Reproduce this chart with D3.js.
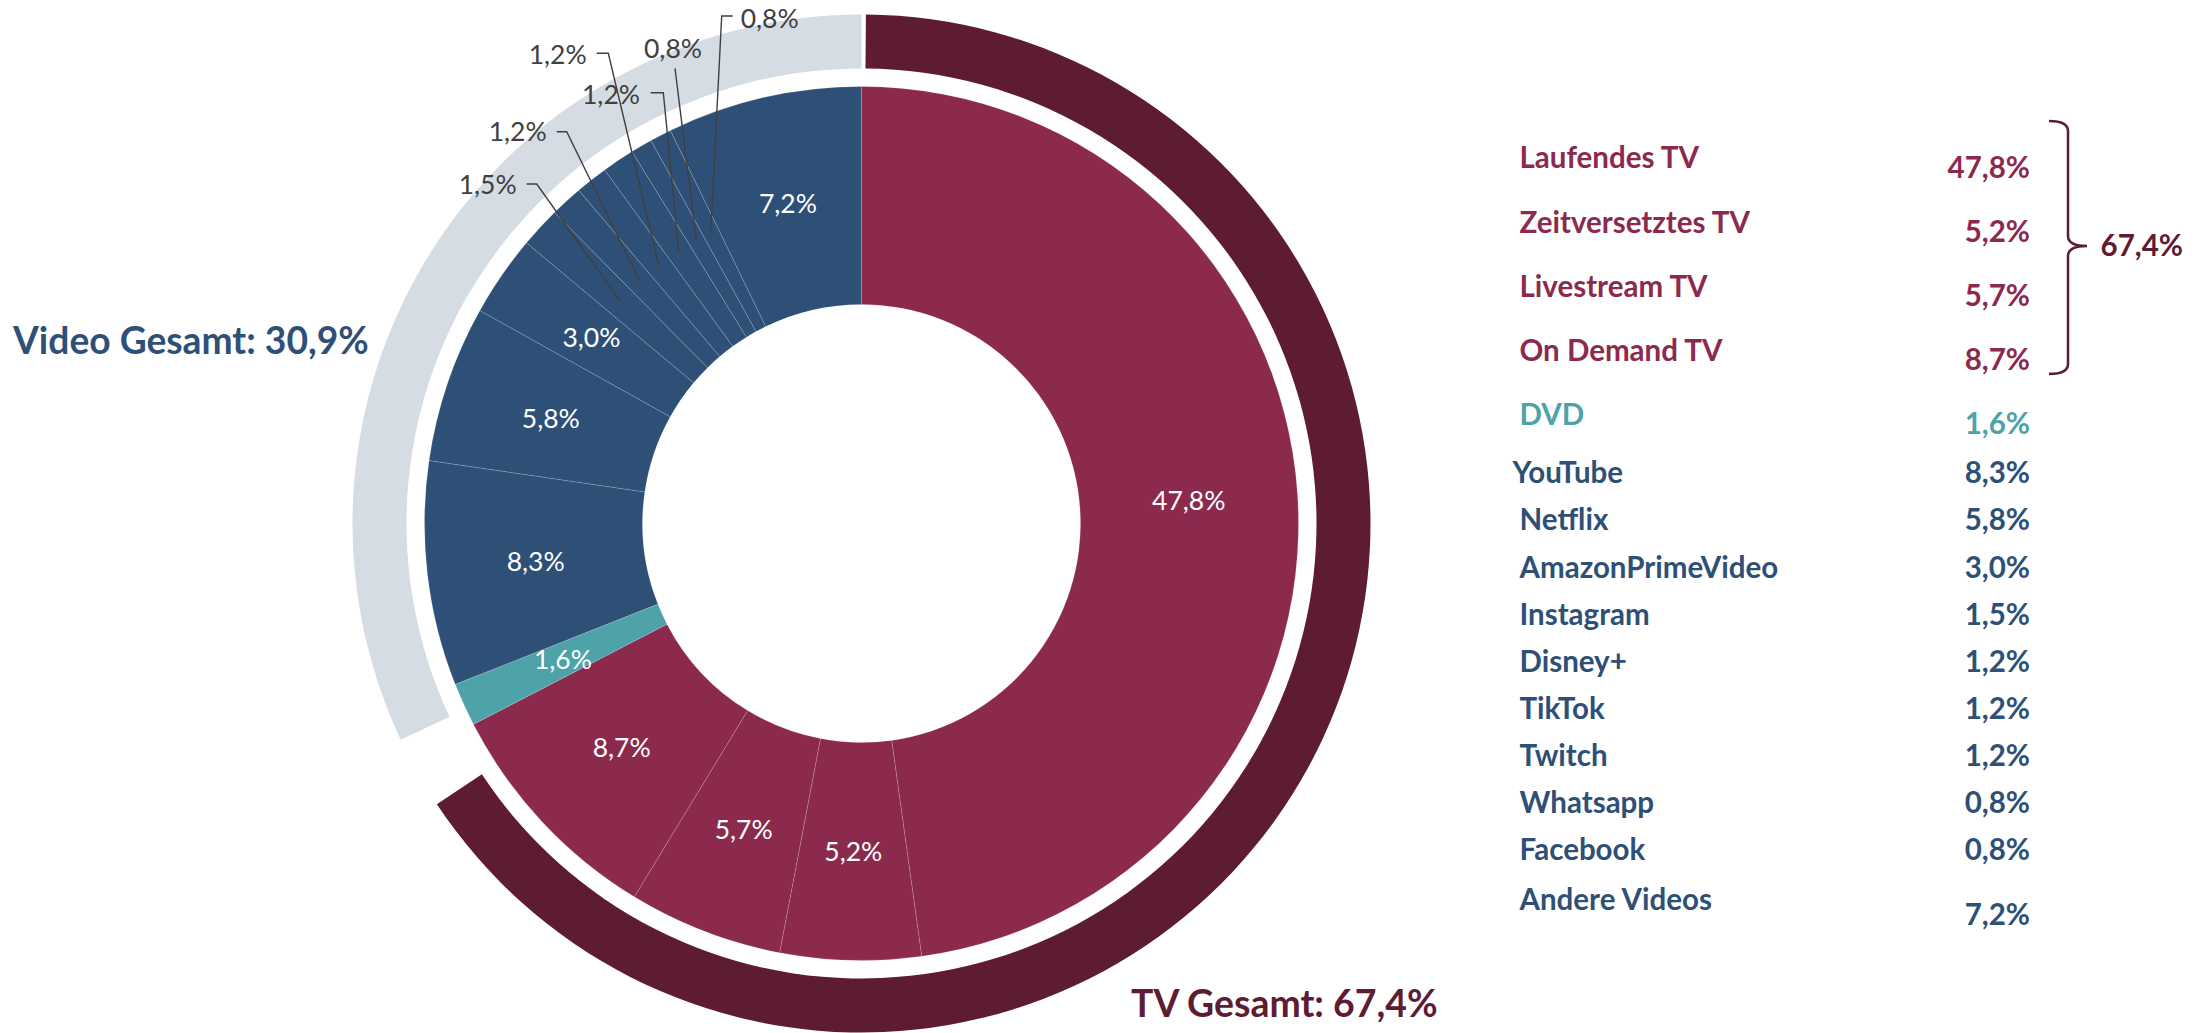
<!DOCTYPE html>
<html><head><meta charset="utf-8">
<script src="https://cdn.jsdelivr.net/npm/d3@7/dist/d3.min.js"></script>
<style>
html,body{margin:0;padding:0;background:#fff;}
svg{display:block;font-family:Lato,"Open Sans",sans-serif;}
</style></head><body>
<svg id="chart" width="2200" height="1033"></svg>
<script>
// ---------- data ----------
const categories = ["Laufendes TV","Zeitversetztes TV","Livestream TV","On Demand TV","DVD","YouTube","Netflix","AmazonPrimeVideo","Instagram","Disney+","TikTok","Twitch","Whatsapp","Facebook","Andere Videos"];
const values = [47.8,5.2,5.7,8.7,1.6,8.3,5.8,3.0,1.5,1.2,1.2,1.2,0.8,0.8,7.2];
const groups = ["TV","TV","TV","TV","DVD","Video","Video","Video","Video","Video","Video","Video","Video","Video","Video"];
const groupNames = ["TV Gesamt","Video Gesamt"];
const groupValues = [67.4,30.9];
const bracketTotal = "67,4%";

// ---------- style ----------
const colors = {TV:"#8C2A4E", DVD:"#4EA3A8", Video:"#2E5077"};
const ringColors = {"TV Gesamt":"#5E1B34","Video Gesamt":"#D5DCE4"};
const totalTextColors = {"TV Gesamt":"#5E1B34","Video Gesamt":"#2E5077"};
const fmt = v => d3.format(".1f")(v).replace(".", ",") + "%";

const svg = d3.select("#chart");
const cx = 861.5, cy = 523.5;
const rInner = 219, rOuter = 437, ringIn = 455, ringOut = 509;

const g = svg.append("g").attr("transform", `translate(${cx},${cy})`);
const data = categories.map((c,i)=>({name:c, value:values[i], group:groups[i]}));
const pie = d3.pie().value(d=>d.value).sort(null);
const arcs = pie(data);
const arc = d3.arc().innerRadius(rInner).outerRadius(rOuter);
const labelArc = d3.arc().innerRadius(rInner).outerRadius(rOuter);

g.selectAll("path.slice").data(arcs).join("path")
  .attr("class","slice")
  .attr("d", arc)
  .attr("fill", d=>colors[d.data.group])
  .attr("stroke","#ffffff").attr("stroke-opacity",0.22).attr("stroke-width",0.7);

// outer group ring
const total = d3.sum(values);
const angle = d3.scaleLinear().domain([0,total]).range([0,2*Math.PI]);
const deg = Math.PI/180;
const ringArc = d3.arc().innerRadius(ringIn).outerRadius(ringOut);
const ringData = [
  {name:groupNames[0], start: angle(0) + 0.5*deg, end: angle(groupValues[0]) - 6.1*deg},
  {name:groupNames[1], start: angle(total - groupValues[1]) - 3.9*deg, end: angle(total)}
];
g.selectAll("path.ring").data(ringData).join("path")
  .attr("class","ring")
  .attr("d", d=>ringArc({startAngle:d.start, endAngle:d.end}))
  .attr("fill", d=>ringColors[d.name]);

// inside labels
const inside = arcs.filter(d=>d.data.value>=1.6);
g.selectAll("text.in").data(inside).join("text")
  .attr("class","in")
  .attr("transform", d=>`translate(${labelArc.centroid(d)})`)
  .attr("text-anchor","middle").attr("dy","0.35em")
  .attr("fill","#ffffff").attr("font-size",26.5)
  .text(d=>fmt(d.data.value));

// outside labels with leader lines (manual placement offsets relative to centre)
const outLayout = {
  "Instagram": {tx:-344.8, ty:-338.5, anchor:"end",   pts:[[-334.8,-339.5],[-324.8,-339.5]]},
  "Disney+":   {tx:-314.8, ty:-391.8, anchor:"end",   pts:[[-304.8,-391.8],[-294.8,-391.8]]},
  "TikTok":    {tx:-274.8, ty:-468.5, anchor:"end",   pts:[[-264.8,-470.2],[-253.2,-470.2]]},
  "Twitch":    {tx:-221.5, ty:-428.5, anchor:"end",   pts:[[-210.8,-430.8],[-198.2,-430.8]]},
  "Whatsapp":  {tx:-188.5, ty:-475.2, anchor:"middle",pts:[[-186.5,-455.2]]},
  "Facebook":  {tx:-120.8, ty:-505.2, anchor:"start", pts:[[-128.8,-507.5],[-139.8,-507.5]]}
};
const outside = arcs.filter(d=>d.data.value<1.6);
g.selectAll("path.leader").data(outside).join("path")
  .attr("class","leader")
  .attr("d", d=>{
    const L = outLayout[d.data.name];
    const c = labelArc.centroid(d);
    return d3.line()([...L.pts, c]);
  })
  .attr("fill","none").attr("stroke","#404040").attr("stroke-width",1.4);
g.selectAll("text.out").data(outside).join("text")
  .attr("class","out")
  .attr("x", d=>outLayout[d.data.name].tx)
  .attr("y", d=>outLayout[d.data.name].ty)
  .attr("text-anchor", d=>outLayout[d.data.name].anchor)
  .attr("dy","0.35em")
  .attr("fill","#404040").attr("font-size",26.5)
  .text(d=>fmt(d.data.value));

// group total labels
svg.append("text").attr("x",13).attr("y",354)
  .attr("font-size",37.2).attr("font-weight",700)
  .attr("fill",totalTextColors[groupNames[1]])
  .text(groupNames[1] + ": " + fmt(groupValues[1]));
svg.append("text").attr("x",1131).attr("y",1017)
  .attr("font-size",37.4).attr("font-weight",700)
  .attr("fill",totalTextColors[groupNames[0]])
  .text(groupNames[0] + ": " + fmt(groupValues[0]));

// ---------- legend ----------
const nameX = 1519.5, valX = 2030;
const legend = svg.append("g").attr("font-weight",700).attr("font-size",29.5);
data.forEach((d,i)=>{
  let ny, vy;
  if (i < 5) { ny = 168.3 + i*64.2; vy = ny + 9.3; }
  else { ny = 483.3 + (i-5)*47.1; vy = ny; if (i === data.length-1) { ny += 3; vy = ny + 15; } }
  const col = colors[d.group];
  legend.append("text").attr("x", d.name==="YouTube" ? nameX-7 : nameX).attr("y", ny)
    .attr("fill", col).text(d.name);
  legend.append("text").attr("x", valX).attr("y", vy).attr("text-anchor","end")
    .attr("fill", col).text(fmt(d.value));
});
// bracket spanning TV rows
const bTop = 121, bBot = 374, bMid = (bTop+bBot)/2 - 1.5, bx = 2068;
svg.append("path")
  .attr("d", `M${bx-19},${bTop} Q${bx},${bTop} ${bx},${bTop+10} L${bx},${bMid-10} Q${bx},${bMid} ${bx+19},${bMid} Q${bx},${bMid} ${bx},${bMid+10} L${bx},${bBot-10} Q${bx},${bBot} ${bx-19},${bBot}`)
  .attr("fill","none").attr("stroke","#5E1B34").attr("stroke-width",2.5);
svg.append("text").attr("x",2183).attr("y",bMid+10).attr("text-anchor","end")
  .attr("font-size",29.5).attr("font-weight",700).attr("fill","#5E1B34").text(bracketTotal);
</script>
</body></html>
